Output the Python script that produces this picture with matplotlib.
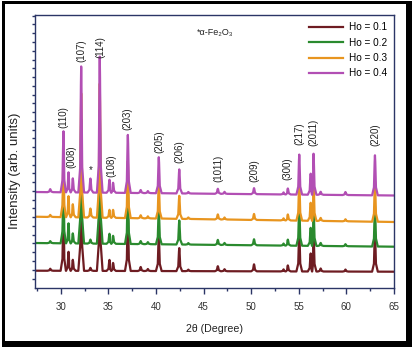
import numpy as np
import matplotlib
matplotlib.use("Agg")
import matplotlib.pyplot as plt
from matplotlib.patches import Rectangle

# peak positions (2theta)
peak_pos = [28.9, 30.29, 30.82, 31.27, 32.15, 33.12, 34.10, 35.12, 35.50, 37.05,
            38.40, 39.15, 40.30, 42.45, 43.40, 46.50, 47.20, 50.30, 53.40, 53.85,
            55.05, 56.25, 56.55, 57.30, 59.90, 63.00]

# peak heights above baseline (arb. units) for each sample
h_01 = [2, 60, 19, 11, 124, 3, 134, 11, 8, 57, 4, 2, 36, 23, 1.5, 5, 2, 7, 2, 6, 40, 18, 38, 3, 2, 40]
h_02 = [2, 60, 20, 10, 124, 4, 134, 10, 8, 57, 3, 2, 36, 24, 1.5, 5, 2, 6, 2, 6, 40, 18, 40, 3, 2, 40]
h_03 = [2, 60, 21, 13, 124, 9, 134, 8, 8, 57, 3, 2, 36, 23, 1.5, 5, 2, 6, 2, 6, 40, 18, 40, 3, 2, 40]
h_04 = [3, 61, 20, 14, 126, 14, 136, 13, 10, 58, 3, 2, 36, 24, 1.5, 5, 2, 6, 2, 6, 40, 21, 41, 3, 3, 40]

# baseline level at the left / right end of each trace (stacked offsets)
base_left = [17.3, 45.0, 71.3, 96.0]
base_right = [16.3, 41.3, 66.0, 92.5]

labels = ["Ho = 0.1", "Ho = 0.2", "Ho = 0.3", "Ho = 0.4"]
colors = ["#6e1c22", "#2a8a2e", "#e8951f", "#b24fb4"]

hkl = ["(110)", "(008)", "(107)", "(114)", "(108)", "(203)", "(205)", "(206)",
       "(1011)", "(209)", "(300)", "(217)", "(2011)", "(220)"]
hkl_x = [30.25, 31.15, 32.2, 34.15, 35.3, 37.05, 40.35, 42.5, 46.55, 50.3, 53.85, 55.05, 56.55, 63.0]
hkl_y = [160, 120, 226, 230, 111, 158, 135, 125, 106, 106, 108, 143, 142, 142]

x_min, x_max = 27.3, 65.0


def trace(heights, b0, b1):
    # polyline through the baseline, peak feet and peak tips
    xs, ys = [x_min], [b0]
    pos = np.array(peak_pos)
    for i, (p, h) in enumerate(zip(peak_pos, heights)):
        gap_l = p - pos[i - 1] if i > 0 else 1.0
        gap_r = pos[i + 1] - p if i < len(pos) - 1 else 1.0
        wf_l = min(0.3, gap_l / 2 - 0.01)
        wf_r = min(0.3, gap_r / 2 - 0.01)
        b = np.interp(p, [x_min, x_max], [b0, b1])
        xs += [p - wf_l, p - wf_l * 0.35, p - 0.03, p, p + 0.03, p + wf_r * 0.35, p + wf_r]
        ys += [b, b + 0.2 * h, b + 0.85 * h, b + h, b + 0.85 * h, b + 0.2 * h, b]
    xs.append(x_max)
    ys.append(b1)
    return xs, ys


plt.rcParams['font.family'] = ['Liberation Sans', 'DejaVu Sans']
fig = plt.figure(figsize=(4.13, 3.49), dpi=100, facecolor='white')
W, H = 413, 349

# black frame around the picture (thicker on right/bottom)
fig.add_artist(Rectangle((2 / W, 1 - 347 / H), 410 / W, 346 / H, transform=fig.transFigure,
                         facecolor='black', edgecolor='none', zorder=-10))
fig.add_artist(Rectangle((5 / W, 1 - 341 / H), 401 / W, 337 / H, transform=fig.transFigure,
                         facecolor='white', edgecolor='none', zorder=-9))

ax = fig.add_axes([35 / W, 1 - 288 / H, (394 - 35) / W, (288 - 15) / H])
ax.set_facecolor('white')

all_h = [h_01, h_02, h_03, h_04]
for hs, b0, b1, c, lab in zip(all_h, base_left, base_right, colors, labels):
    xs, ys = trace(hs, b0, b1)
    ax.plot(xs, ys, color=c, lw=1.6, label=lab, solid_joinstyle='round')

for t, x, y in zip(hkl, hkl_x, hkl_y):
    ax.text(x, y, t, rotation=90, ha='center', va='bottom', fontsize=7, color='#222222')
ax.text(33.12, 113, "*", ha='center', va='bottom', fontsize=7, color='#222222')
ax.text(44.3, 255, "*α-Fe₂O₃", ha='left', va='center', fontsize=6.5, color='#222222')

ax.set_xlim(x_min, x_max)
ax.set_ylim(0, 273)
ax.set_xticks(np.arange(30, 66, 5))
ax.set_xticks(np.arange(27.5, 65, 5), minor=True)
ax.set_yticks(np.arange(9.5, 273, 8.76))
ax.set_yticklabels([])
spine_c = '#2b3566'
for s in ax.spines.values():
    s.set_color(spine_c)
    s.set_linewidth(1.0)
ax.tick_params(axis='x', which='major', direction='out', length=4, width=1, color=spine_c,
               labelsize=7, labelcolor='#333333', pad=6)
ax.tick_params(axis='x', which='minor', direction='out', length=2.5, width=1, color=spine_c)
ax.tick_params(axis='y', direction='out', length=2, width=1, color=spine_c)

ax.set_xlabel("2θ (Degree)", fontsize=7.7, color='#222222', labelpad=9)
ax.set_ylabel("Intensity (arb. units)", fontsize=9.5, color='#222222')
ax.yaxis.set_label_coords(-0.04, 0.43)

leg = ax.legend(loc='upper right', frameon=False, fontsize=7.2, handlelength=3.4,
                labelspacing=0.55, borderaxespad=0.3, handletextpad=0.6)

fig.savefig("out.png", dpi=100, facecolor='white')
